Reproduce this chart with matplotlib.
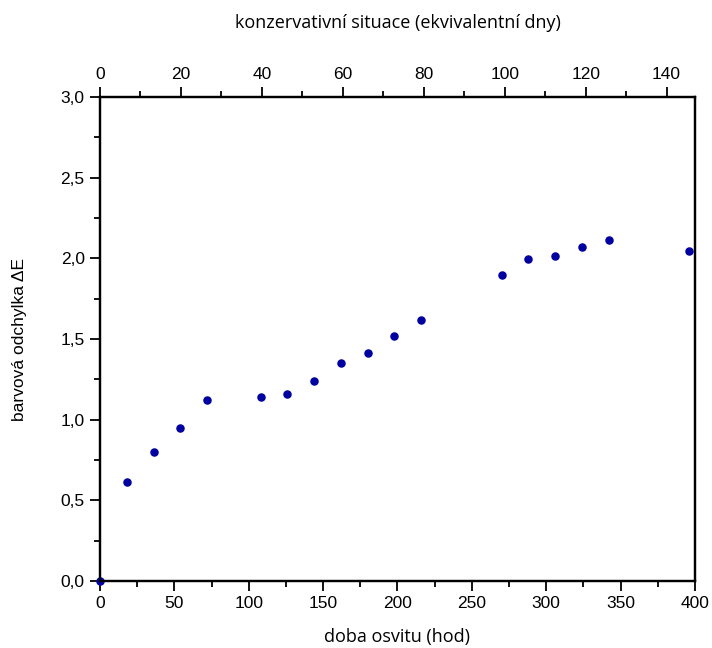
import numpy as np
import matplotlib.pyplot as plt
from matplotlib.ticker import MultipleLocator, FuncFormatter

# doba osvitu v hodinach a barvova odchylka
hours = [0, 18, 36, 54, 72, 108, 126, 144, 162, 180, 198, 216, 270, 288, 306, 324, 342, 396]
delta_e = [0.0, 0.615, 0.80, 0.947, 1.122, 1.139, 1.159, 1.238, 1.351, 1.413, 1.517, 1.616,
           1.895, 1.996, 2.017, 2.069, 2.112, 2.048]

x_max = 400
days_max = 147

plt.rcParams['font.family'] = ['Liberation Sans', 'DejaVu Sans']

fig = plt.figure(figsize=(7.12, 6.48), dpi=100)
ax = fig.add_axes([0.1404, 0.1034, 0.8356, 0.7469])

ax.scatter(hours, delta_e, s=26, color='#0000a0', zorder=3, clip_on=False)

ax.set_xlim(0, x_max)
ax.set_ylim(0, 3.0)
ax.xaxis.set_major_locator(MultipleLocator(50))
ax.xaxis.set_minor_locator(MultipleLocator(25))
ax.yaxis.set_major_locator(MultipleLocator(0.5))
ax.yaxis.set_minor_locator(MultipleLocator(0.25))
ax.yaxis.set_major_formatter(FuncFormatter(lambda v, p: ('%.1f' % v).replace('.', ',')))

ax.tick_params(which='major', direction='out', length=7, width=1.3, labelsize=12.5, pad=4)
ax.tick_params(which='minor', direction='out', length=4, width=1.3)
ax.tick_params(right=False, top=False)

# horni osa - ekvivalentni dny
top = ax.twiny()
top.set_xlim(0, days_max)
top.xaxis.set_major_locator(MultipleLocator(20))
top.xaxis.set_minor_locator(MultipleLocator(10))
top.tick_params(which='major', direction='out', length=7, width=1.3, labelsize=12.5, pad=4)
top.tick_params(which='minor', direction='out', length=4, width=1.3)

for a in (ax, top):
    for s in a.spines.values():
        s.set_linewidth(1.6)

ax.set_xlabel('doba osvitu (hod)', fontsize=13, fontfamily='Open Sans', labelpad=12)
top.set_xlabel('konzervativní situace (ekvivalentní dny)', fontsize=13, fontfamily='Open Sans', labelpad=28)
ax.set_ylabel('barvová odchylka ΔE', fontsize=12.5, labelpad=24)

fig.savefig('out.png', dpi=100)
